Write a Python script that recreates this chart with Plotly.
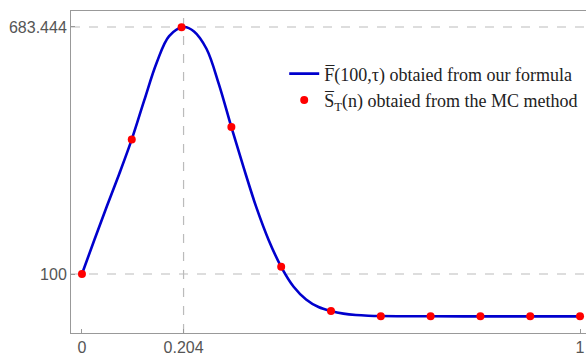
import plotly.graph_objects as go

# Curve values
curve_x = [0, 0.025, 0.05, 0.075, 0.1, 0.125, 0.15, 0.175, 0.204, 0.225, 0.25, 0.275,
           0.3, 0.325, 0.35, 0.375, 0.4, 0.425, 0.45, 0.475, 0.5, 0.525, 0.55, 0.575,
           0.6, 0.65, 0.7, 0.8, 0.9, 1.0]
curve_y = [100, 181, 260, 337, 418, 510, 599, 662, 683.444, 673, 632, 548,
           447, 350, 258, 180, 117, 70, 40, 22, 12.6, 6.5, 3.2, 1.5,
           0.7, 0.3, 0.1, 0, 0, 0]

# Monte Carlo points
mc_x = [0, 0.1, 0.2, 0.3, 0.4, 0.5, 0.6, 0.7, 0.8, 0.9, 1.0]
mc_y = [100, 418, 683, 447, 117, 12.6, 0.5, 0, 0, 0, 0]

x_ticks = [0, 0.204, 1]
x_tick_text = ["0", "0.204", "1"]
y_ticks = [100, 683.444]
y_tick_text = ["100", "683.444"]

PEAK_X = 0.204
PEAK_Y = 683.444
BASE_Y = 100

fig = go.Figure()
fig.add_trace(go.Scatter(
    x=curve_x, y=curve_y, mode="lines",
    line=dict(color="#0000CD", width=2.6, shape="spline", smoothing=1.0),
    name="F\u0305(100,\u03c4) obtaied from our formula"))
fig.add_trace(go.Scatter(
    x=mc_x, y=mc_y, mode="markers", marker=dict(color="#FF0000", size=8),
    name="S\u0305<sub>T</sub>(n) obtaied from the MC method"))

grid = dict(color="#BBBBBB", width=1.2, dash="dash")
fig.add_shape(type="line", xref="x", yref="paper", x0=PEAK_X, x1=PEAK_X, y0=0, y1=1, line=grid, layer="below")
fig.add_shape(type="line", xref="paper", yref="y", x0=0, x1=1, y0=BASE_Y, y1=BASE_Y, line=grid, layer="below")
fig.add_shape(type="line", xref="paper", yref="y", x0=0, x1=1, y0=PEAK_Y, y1=PEAK_Y, line=grid, layer="below")

tickfont = dict(family="Liberation Sans", size=16, color="#555555")

fig.update_layout(
    width=586, height=356,
    margin=dict(l=71, r=0, t=11, b=23),
    plot_bgcolor="white", paper_bgcolor="white",
    showlegend=True,
    legend=dict(x=0.414, y=0.862, xanchor="left", yanchor="top",
                font=dict(family="Liberation Serif", size=18, color="#222222"),
                bgcolor="rgba(0,0,0,0)", itemwidth=30),
    xaxis=dict(range=[-0.022, 1.012], tickvals=x_ticks, ticktext=x_tick_text,
               showgrid=False, zeroline=False, showline=True, linecolor="#999999", linewidth=1,
               mirror=True, ticks="inside", ticklen=4, tickcolor="#999999",
               automargin=False, tickfont=tickfont),
    yaxis=dict(range=[-39.3, 721.2], tickvals=y_ticks, ticktext=y_tick_text,
               showgrid=False, zeroline=False, showline=True, linecolor="#999999", linewidth=1,
               ticks="inside", ticklen=4, tickcolor="#999999",
               automargin=False, tickfont=tickfont),
)

fig.write_html("out.html", config={"displayModeBar": False},
               post_script="document.body.style.margin='0';document.body.style.overflow='hidden';")
